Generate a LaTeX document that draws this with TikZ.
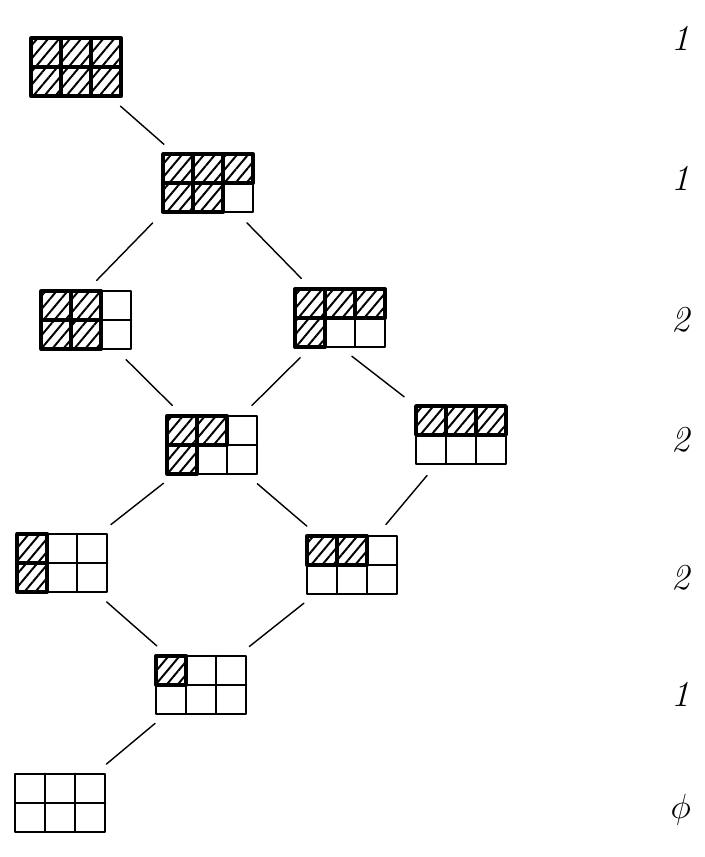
\documentclass[tikz,border=0pt]{standalone}
\usepackage{tikz}
\usetikzlibrary{patterns.meta}
\tikzset{
	youngbox/.style={inner sep=0pt, outer sep=0pt, minimum width=2.25cm, minimum height=1.45cm}
}
\tikzset{
	gridline/.style={line width=1.6pt, line cap=round, line join=round}
}
\tikzset{
	shadedcell/.style={line width=2.6pt, line join=round,
			pattern={Lines[angle=50, distance=6pt, line width=1.4pt]}}
}
\tikzset{
	linkline/.style={line width=1pt, line cap=round, shorten <=0.375cm, shorten >=0.375cm}
}
\tikzset{
	rankcount/.style={font=\fontsize{26}{30}\selectfont\itshape}
}

\begin{document}
\begin{tikzpicture}[x=0.025cm, y=-0.025cm]
\draw[opacity=0] (0,0) rectangle (704,857);

\node[youngbox] (g1) at (76,67) {};
\node[youngbox] (g2) at (208,183) {};
\node[youngbox] (g3) at (86,320) {};
\node[youngbox] (g4) at (340,318) {};
\node[youngbox] (g5) at (212,445) {};
\node[youngbox] (g6) at (461,435) {};
\node[youngbox] (g7) at (62,563) {};
\node[youngbox] (g8) at (352,565) {};
\node[youngbox] (g9) at (201,685) {};
\node[youngbox] (g10) at (60,803) {};

% empty grids
\foreach \g in {g1,g2,g3,g4,g5,g6,g7,g8,g9,g10} {
	\draw[gridline] (\g.north west) rectangle (\g.south east);
	\draw[gridline] ([shift={(30,0)}]\g.north west) -- ([shift={(30,0)}]\g.south west);
	\draw[gridline] ([shift={(60,0)}]\g.north west) -- ([shift={(60,0)}]\g.south west);
	\draw[gridline] (\g.west) -- (\g.east);
}

% shaded cells (column/row)
\foreach \c/\r in {1/1,2/1,3/1,1/2,2/2,3/2}
	\draw[shadedcell] ([shift={(\c*30-30,\r*29-29)}]g1.north west) rectangle ++(30,29);
\foreach \c/\r in {1/1,2/1,3/1,1/2,2/2}
	\draw[shadedcell] ([shift={(\c*30-30,\r*29-29)}]g2.north west) rectangle ++(30,29);
\foreach \c/\r in {1/1,2/1,1/2,2/2}
	\draw[shadedcell] ([shift={(\c*30-30,\r*29-29)}]g3.north west) rectangle ++(30,29);
\foreach \c/\r in {1/1,2/1,3/1,1/2}
	\draw[shadedcell] ([shift={(\c*30-30,\r*29-29)}]g4.north west) rectangle ++(30,29);
\foreach \c/\r in {1/1,2/1,1/2}
	\draw[shadedcell] ([shift={(\c*30-30,\r*29-29)}]g5.north west) rectangle ++(30,29);
\foreach \c/\r in {1/1,2/1,3/1}
	\draw[shadedcell] ([shift={(\c*30-30,\r*29-29)}]g6.north west) rectangle ++(30,29);
\foreach \c/\r in {1/1,1/2}
	\draw[shadedcell] ([shift={(\c*30-30,\r*29-29)}]g7.north west) rectangle ++(30,29);
\foreach \c/\r in {1/1,2/1}
	\draw[shadedcell] ([shift={(\c*30-30,\r*29-29)}]g8.north west) rectangle ++(30,29);
\draw[shadedcell] (g9.north west) rectangle ++(30,29);

% links
\draw[linkline] (g1) -- (g2);
\draw[linkline] (g2.south west) -- (g3.north);
\draw[linkline] (g2) -- (g4);
\draw[linkline] (g3) -- (g5);
\draw[linkline] (g4) -- (g5);
\draw[linkline] (g4.south) -- (g6.north west);
\draw[linkline] (g5) -- (g7);
\draw[linkline] (g5) -- (g8);
\draw[linkline] (g6) -- (g8);
\draw[linkline] (g7) -- (g9);
\draw[linkline] (g8) -- (g9);
\draw[linkline] (g9) -- (g10);

% counts per level
\node[rankcount] (r0) at (681,38) {1};
\node[rankcount] (r1) at (681,178) {1};
\node[rankcount] (r2) at (681,320) {2};
\node[rankcount] (r3) at (681,440) {2};
\node[rankcount] (r4) at (681,578) {2};
\node[rankcount] (r5) at (681,695) {1};
\node[rankcount] (r6) at (681,810) {$\phi$};

\end{tikzpicture}
\end{document}
